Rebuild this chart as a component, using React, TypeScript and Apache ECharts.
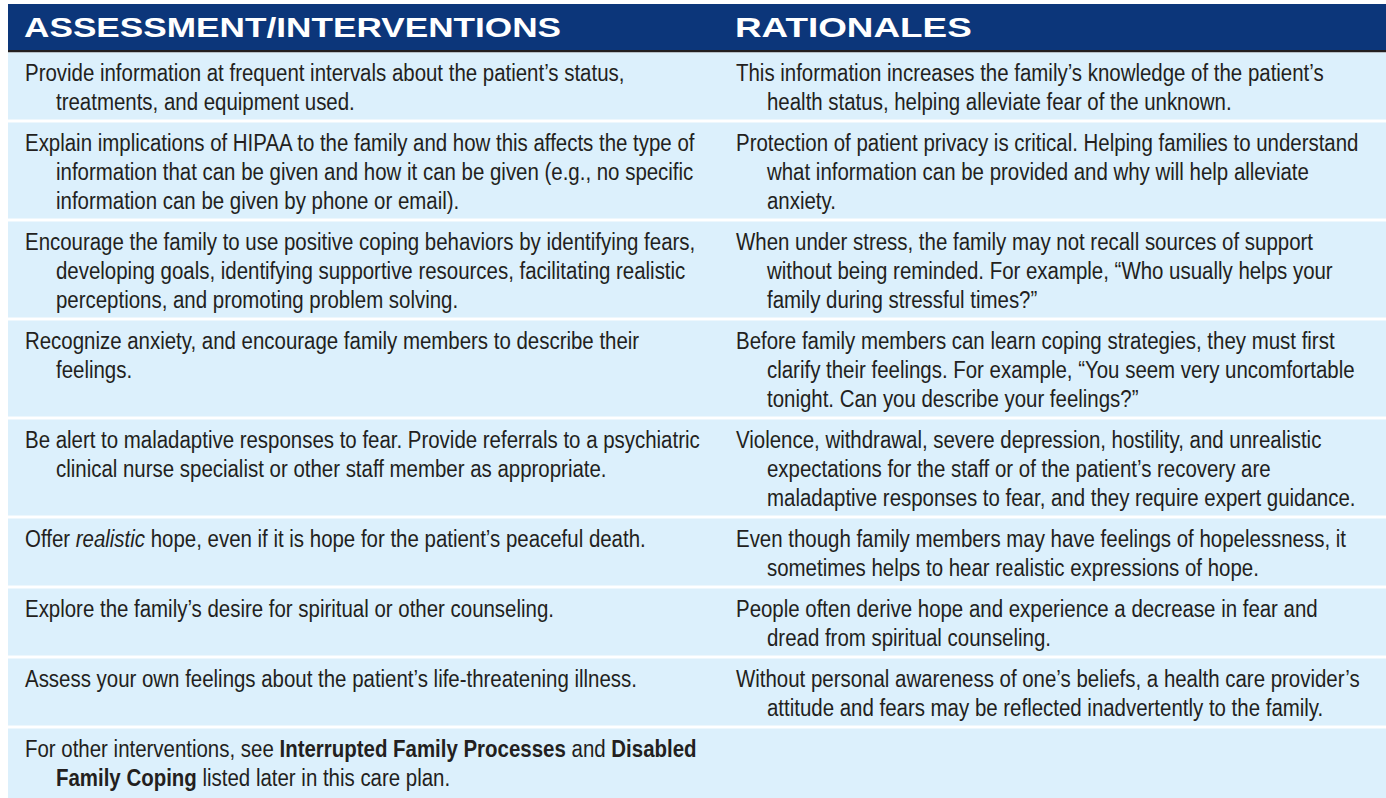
import React, { useEffect, useRef } from "react";
import * as echarts from "echarts";

const HEADERS: string[] = ["ASSESSMENT/INTERVENTIONS", "RATIONALES"];

const interventions: string[][] = [
  ["Provide information at frequent intervals about the patient’s status,", "treatments, and equipment used."],
  ["Explain implications of HIPAA to the family and how this affects the type of", "information that can be given and how it can be given (e.g., no specific", "information can be given by phone or email)."],
  ["Encourage the family to use positive coping behaviors by identifying fears,", "developing goals, identifying supportive resources, facilitating realistic", "perceptions, and promoting problem solving."],
  ["Recognize anxiety, and encourage family members to describe their", "feelings."],
  ["Be alert to maladaptive responses to fear. Provide referrals to a psychiatric", "clinical nurse specialist or other staff member as appropriate."],
  ["Offer {i|realistic} hope, even if it is hope for the patient’s peaceful death."],
  ["Explore the family’s desire for spiritual or other counseling."],
  ["Assess your own feelings about the patient’s life-threatening illness."],
  ["For other interventions, see {b|Interrupted Family Processes} and {b|Disabled}", "{b|Family Coping} listed later in this care plan."],
];

const rationales: string[][] = [
  ["This information increases the family’s knowledge of the patient’s", "health status, helping alleviate fear of the unknown."],
  ["Protection of patient privacy is critical. Helping families to understand", "what information can be provided and why will help alleviate", "anxiety."],
  ["When under stress, the family may not recall sources of support", "without being reminded. For example, “Who usually helps your", "family during stressful times?”"],
  ["Before family members can learn coping strategies, they must first", "clarify their feelings. For example, “You seem very uncomfortable", "tonight. Can you describe your feelings?”"],
  ["Violence, withdrawal, severe depression, hostility, and unrealistic", "expectations for the staff or of the patient’s recovery are", "maladaptive responses to fear, and they require expert guidance."],
  ["Even though family members may have feelings of hopelessness, it", "sometimes helps to hear realistic expressions of hope."],
  ["People often derive hope and experience a decrease in fear and", "dread from spiritual counseling."],
  ["Without personal awareness of one’s beliefs, a health care provider’s", "attitude and fears may be reflected inadvertently to the family."],
  [],
];

const W = 1386;
const H = 798;
const FONT = "'Liberation Sans', Arial, Helvetica, sans-serif";
const TEXT_COLOR = "#231f20";
const HEADER_BG = "#0c367a";
const ROW_BG = "#dcf0fc";

function buildGraphic() {
  const els: any[] = [];
  const left = 8;
  const headTop = 4;
  const headBottom = 50;
  const colX = [24, 735];
  const textX = [25, 736];
  const indent = 31;
  const lineH = 29;
  const rowPad = 9;
  const gap = 3;
  const bodyFs = 23.5;
  const bodyScale = 0.87;

  els.push({ type: "rect", shape: { x: left, y: headTop, width: W - left, height: headBottom - headTop }, style: { fill: HEADER_BG } });
  els.push({ type: "rect", shape: { x: left, y: headBottom, width: W - left, height: 2.5 }, style: { fill: TEXT_COLOR } });
  const headScale = [1.28, 1.34];
  HEADERS.forEach((h, i) => {
    els.push({
      type: "text",
      x: colX[i],
      y: 27.5,
      scaleX: headScale[i],
      style: { text: h, x: 0, y: 0, fill: "#ffffff", fontFamily: FONT, fontWeight: "bold", fontSize: 27.5, align: "left", verticalAlign: "middle" },
    });
  });

  const rich = {
    b: { fontWeight: "bold", fontSize: bodyFs, fontFamily: FONT, fill: TEXT_COLOR },
    i: { fontStyle: "italic", fontSize: bodyFs, fontFamily: FONT, fill: TEXT_COLOR },
  };

  let top = headBottom + 2.5;
  interventions.forEach((leftLines, r) => {
    const rightLines = rationales[r] || [];
    const n = Math.max(leftLines.length, rightLines.length, 2);
    const last = r === interventions.length - 1;
    const h = last ? H - top : rowPad + lineH * n;
    els.push({ type: "rect", shape: { x: left, y: top, width: W - left, height: h }, style: { fill: ROW_BG } });
    [leftLines, rightLines].forEach((lines, c) => {
      lines.forEach((ln, k) => {
        els.push({
          type: "text",
          x: textX[c] + (k > 0 ? indent : 0),
          y: top + 20 + k * lineH,
          scaleX: bodyScale,
          style: { text: ln, x: 0, y: 0, fill: TEXT_COLOR, fontFamily: FONT, fontSize: bodyFs, align: "left", verticalAlign: "middle", rich },
        });
      });
    });
    top += h + gap;
  });
  return els;
}

export default function App() {
  const ref = useRef<HTMLDivElement>(null);
  useEffect(() => {
    if (!ref.current) return;
    const chart = echarts.init(ref.current, undefined, { renderer: "svg" });
    chart.setOption({
      animation: false,
      backgroundColor: "#ffffff",
      graphic: { elements: buildGraphic() },
    });
    return () => chart.dispose();
  }, []);
  return <div ref={ref} style={{ position: "fixed", left: 0, top: 0, width: W, height: H }} />;
}
